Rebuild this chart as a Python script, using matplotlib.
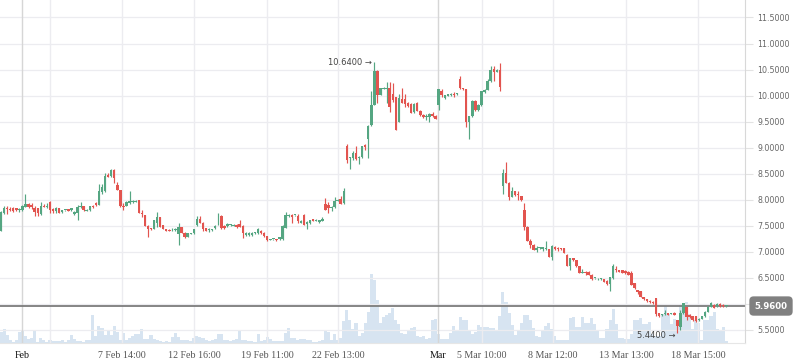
import matplotlib
matplotlib.use('Agg')
import matplotlib.pyplot as plt
import matplotlib.transforms as mtransforms

# ---------------- data ----------------
opens = [
7.41,7.74,7.85,7.83,7.85,7.84,7.81,7.80,7.87,7.92,
7.90,7.85,7.84,7.73,7.88,7.87,7.96,7.82,7.79,7.84,
7.77,7.80,7.82,7.80,7.72,7.75,7.87,7.88,7.79,7.80,
7.88,7.94,7.90,8.14,8.16,8.48,8.46,8.58,8.28,8.19,
7.88,7.89,7.94,7.96,7.96,8.00,7.75,7.71,7.50,7.45,
7.43,7.55,7.66,7.51,7.43,7.42,7.43,7.42,7.34,7.47,
7.37,7.29,7.35,7.36,7.52,7.64,7.56,7.45,7.42,7.42,
7.45,7.68,7.69,7.50,7.50,7.51,7.50,7.52,7.53,7.50,
7.32,7.32,7.32,7.37,7.36,7.41,7.37,7.30,7.23,7.24,
7.24,7.24,7.24,7.45,7.68,7.71,7.70,7.68,7.56,7.71,
7.54,7.55,7.63,7.60,7.57,7.60,7.92,7.90,7.84,7.86,
7.98,8.01,7.93,9.03,8.80,8.80,8.89,8.81,8.83,9.05,
9.16,9.44,9.82,10.48,10.01,10.13,10.13,10.14,10.04,9.97,
9.50,9.93,9.93,9.86,9.84,9.69,9.86,9.71,9.63,9.59,
9.58,9.65,9.61,9.82,10.08,9.95,10.00,10.01,10.04,10.03,
10.31,10.14,10.12,9.50,9.60,9.90,9.72,9.82,10.06,10.11,
10.29,10.52,10.46,10.50,8.27,8.52,8.33,8.06,8.16,8.11,
8.07,7.80,7.48,7.21,7.13,7.04,7.07,7.06,7.05,7.05,
6.91,7.10,7.06,7.07,7.07,6.94,6.73,6.88,6.84,6.72,
6.60,6.62,6.62,6.56,6.49,6.47,6.47,6.47,6.45,6.38,
6.49,6.68,6.65,6.65,6.64,6.62,6.59,6.40,6.26,6.24,
6.13,6.09,6.06,6.04,6.11,5.82,5.79,5.81,5.82,5.81,
5.83,5.69,5.56,5.82,5.94,5.79,5.76,5.76,5.69,5.72,
5.76,5.85,5.95,5.98,5.96,6.00,5.98,5.96]

highs = [
7.78,7.88,7.88,7.86,7.87,7.85,7.85,7.90,8.11,7.93,
7.93,7.88,7.85,7.96,7.92,7.94,7.97,7.84,7.87,7.85,
7.81,7.81,7.83,7.85,7.78,7.90,7.96,7.89,7.82,7.89,
7.90,7.95,8.30,8.30,8.51,8.51,8.59,8.59,8.35,8.19,
7.94,7.98,8.16,8.00,7.99,8.00,7.81,7.71,7.51,7.46,
7.62,7.76,7.67,7.52,7.44,7.43,7.45,7.46,7.55,7.48,
7.38,7.37,7.37,7.44,7.68,7.68,7.57,7.46,7.45,7.44,
7.51,7.75,7.70,7.51,7.56,7.54,7.53,7.53,7.62,7.51,
7.38,7.38,7.38,7.39,7.45,7.42,7.38,7.31,7.25,7.25,
7.25,7.29,7.52,7.77,7.72,7.72,7.71,7.73,7.61,7.73,
7.59,7.62,7.64,7.63,7.62,7.66,8.03,7.96,7.88,8.06,
8.01,8.07,8.22,9.08,8.82,8.94,9.03,8.85,9.04,9.07,
9.43,10.08,10.64,10.50,10.15,10.16,10.27,10.27,10.24,9.98,
10.04,10.14,10.04,9.88,9.86,9.86,9.87,9.72,9.64,9.65,
9.66,9.69,9.62,10.13,10.12,10.02,10.04,10.05,10.06,10.05,
10.38,10.15,10.13,9.61,9.91,9.91,9.83,10.09,10.12,10.31,
10.57,10.57,10.51,10.62,8.60,8.73,8.34,8.24,8.17,8.17,
8.08,7.94,7.50,7.24,7.15,7.11,7.10,7.10,7.20,7.06,
7.13,7.11,7.10,7.08,7.08,6.96,6.89,6.89,6.85,6.73,
6.68,6.64,6.63,6.57,6.50,6.49,6.50,6.48,6.46,6.52,
6.77,6.72,6.66,6.66,6.65,6.63,6.64,6.41,6.27,6.25,
6.14,6.10,6.07,6.05,6.12,5.83,5.80,5.88,5.83,5.83,
5.84,5.70,5.88,6.02,5.95,5.80,5.77,5.77,5.73,5.77,
5.86,5.96,6.03,5.99,6.01,6.01,5.99,5.96]

lows = [
7.40,7.73,7.73,7.79,7.77,7.79,7.77,7.79,7.86,7.85,
7.82,7.69,7.69,7.71,7.86,7.84,7.75,7.75,7.75,7.74,
7.74,7.79,7.78,7.79,7.71,7.61,7.85,7.79,7.78,7.79,
7.85,7.89,7.90,8.12,8.14,8.43,8.44,8.32,8.19,7.87,
7.80,7.89,7.92,7.93,7.95,7.74,7.67,7.50,7.28,7.42,
7.43,7.48,7.48,7.43,7.40,7.40,7.41,7.41,7.13,7.36,
7.27,7.28,7.34,7.35,7.50,7.55,7.41,7.40,7.39,7.41,
7.44,7.52,7.43,7.44,7.48,7.50,7.49,7.46,7.47,7.26,
7.31,7.31,7.31,7.34,7.34,7.35,7.29,7.21,7.22,7.23,
7.21,7.23,7.23,7.45,7.67,7.56,7.69,7.56,7.55,7.52,
7.43,7.54,7.59,7.59,7.56,7.60,7.80,7.75,7.79,7.84,
7.97,7.92,7.92,8.71,8.60,8.76,8.76,8.69,8.80,8.96,
8.81,9.42,9.82,9.85,10.01,10.12,9.85,9.69,9.88,9.34,
9.50,9.85,9.79,9.78,9.66,9.67,9.70,9.60,9.57,9.53,
9.50,9.59,9.55,9.72,9.98,9.94,9.99,10.00,9.97,10.02,
10.12,10.11,9.39,9.16,9.59,9.71,9.71,9.81,10.05,10.10,
10.27,10.29,10.45,10.08,8.12,8.32,7.99,8.05,8.08,7.99,
7.98,7.42,7.21,7.07,7.03,7.00,7.06,7.02,7.04,6.90,
6.84,7.04,7.02,7.04,6.98,6.72,6.66,6.83,6.71,6.59,
6.59,6.56,6.55,6.46,6.48,6.46,6.46,6.42,6.37,6.24,
6.47,6.62,6.61,6.59,6.58,6.55,6.36,6.29,6.20,6.13,
6.08,6.04,6.02,6.00,5.76,5.75,5.76,5.79,5.78,5.80,
5.78,5.44,5.50,5.81,5.70,5.73,5.68,5.66,5.68,5.71,
5.75,5.84,5.94,5.92,5.95,5.95,5.95,5.95]

closes = [
7.77,7.85,7.82,7.80,7.79,7.80,7.82,7.88,7.92,7.86,
7.87,7.77,7.75,7.88,7.87,7.89,7.80,7.79,7.85,7.75,
7.80,7.80,7.79,7.84,7.77,7.87,7.88,7.80,7.81,7.88,
7.87,7.90,8.16,8.25,8.46,8.44,8.58,8.41,8.19,7.89,
7.87,7.96,7.98,7.97,7.98,7.75,7.73,7.50,7.43,7.43,
7.61,7.66,7.48,7.43,7.41,7.41,7.44,7.44,7.48,7.37,
7.28,7.36,7.36,7.43,7.63,7.56,7.43,7.41,7.42,7.43,
7.50,7.69,7.45,7.45,7.53,7.53,7.52,7.47,7.48,7.37,
7.37,7.37,7.37,7.38,7.43,7.36,7.30,7.22,7.24,7.24,
7.22,7.28,7.50,7.71,7.71,7.66,7.70,7.60,7.60,7.52,
7.58,7.61,7.60,7.62,7.61,7.64,7.80,7.84,7.87,7.98,
8.00,7.92,8.16,8.76,8.81,8.89,8.78,8.83,9.03,9.01,
9.42,9.82,10.48,10.01,10.14,10.14,10.14,9.78,9.92,9.34,
9.95,9.86,9.84,9.80,9.67,9.84,9.71,9.63,9.58,9.60,
9.65,9.60,9.56,10.12,10.01,10.01,10.03,10.04,10.02,10.04,
10.14,10.12,9.50,9.60,9.90,9.72,9.82,10.08,10.11,10.29,
10.50,10.46,10.50,10.17,8.52,8.33,8.06,8.16,8.09,8.09,
7.99,7.47,7.21,7.13,7.04,7.07,7.09,7.09,7.06,6.91,
7.11,7.05,7.05,7.05,6.98,6.73,6.88,6.84,6.72,6.60,
6.62,6.59,6.56,6.47,6.49,6.48,6.49,6.43,6.38,6.51,
6.73,6.65,6.62,6.60,6.59,6.56,6.36,6.30,6.22,6.14,
6.09,6.06,6.03,6.01,5.81,5.76,5.79,5.82,5.79,5.82,
5.79,5.58,5.82,6.01,5.74,5.74,5.69,5.68,5.72,5.76,
5.85,5.95,6.01,5.93,6.00,5.96,5.96,5.96]

volume = [
11,14,8,3,1,3,11,13,7,4,
5,13,1,5,3,1,3,2,2,2,3,
1,3,8,4,2,2,1,3,3,28,7,17,
15,8,12,8,17,11,3,10,3,5,
7,9,9,14,4,4,8,4,3,2,1,2,
1,6,10,6,3,3,3,2,5,7,6,
5,3,2,3,4,9,9,3,3,2,3,
4,12,3,3,2,2,1,9,2,3,6,
4,2,2,2,2,10,15,5,5,3,4,4,3,
3,1,1,2,3,13,
11,3,9,3,5,22,33,23,14,20,
7,10,20,31,69,63,43,20,26,28,
30,35,23,19,10,9,12,15,16,7,
6,7,4,5,23,24,9,4,4,4,10,
17,13,26,23,23,12,9,11,18,16,16,16,
15,15,12,27,51,41,30,18,8,13,20,28,28,
23,15,7,6,13,17,20,14,7,3,3,3,3,
25,26,16,16,26,20,20,25,19,13,
5,5,14,23,34,19,5,5,4,4,9,
23,23,25,19,19,21,9,7,7,
29,37,29,19,24,22,39,35,41,29,
14,23,20,3,23,23,27,31,14,12,16,2]

tick_pos = [6.86, 16.0, 39.5, 63.1, 86.9, 110.1, 142.8, 157.2, 180.4, 204.2, 227.8]
tick_labels = ['Feb', '', '7 Feb 14:00', '12 Feb 16:00', '19 Feb 11:00', '22 Feb 13:00',
               'Mar', '5 Mar 10:00', '8 Mar 12:00', '13 Mar 13:00', '18 Mar 15:00']
month_labels = ['Feb', 'Mar']
price_ticks = [5.5, 6.0, 6.5, 7.0, 7.5, 8.0, 8.5, 9.0, 9.5, 10.0, 10.5, 11.0, 11.5]

n = len(closes)
for name, arr in [('opens', opens), ('highs', highs), ('lows', lows), ('volume', volume)]:
    if len(arr) != n:
        raise SystemExit(f'length mismatch {name}: {len(arr)} vs {n}')

# ---------------- style ----------------
UP = '#55a682'
DOWN = '#e2544f'
VOL = '#d7e4f1'
GRID = '#ececf0'
MONTH = '#d6d6d6'

W, H = 798, 363
fig = plt.figure(figsize=(W / 100, H / 100), dpi=100)
fig.patch.set_facecolor('white')
pos = [0, 20 / H, 745 / W, 343 / H]

xlim = (-0.33, 243.1)
last = closes[-1]

# volume axes (behind)
axv = fig.add_axes(pos, zorder=0)
axv.set_xlim(*xlim)
axv.set_ylim(0, 343)
axv.bar(range(n), volume, width=1.0, color=VOL, linewidth=0)
axv.axis('off')

# price axes (front)
ax = fig.add_axes(pos, zorder=1)
ax.patch.set_alpha(0)
ax.set_xlim(*xlim)
ax.set_ylim(5.25, 11.836)

for p in price_ticks:
    ax.axhline(p, color=GRID, lw=0.9, zorder=1)
for tp, tl in zip(tick_pos, tick_labels):
    ax.axvline(tp, color=MONTH if tl in month_labels else GRID, lw=1.0, zorder=1)

ax.axhline(last, color='#7c7c7c', lw=1.3, zorder=2)

xs = list(range(n))
cols = [UP if c >= o else DOWN for o, c in zip(opens, closes)]
ax.vlines(xs, lows, highs, colors=cols, lw=0.85, zorder=3)
bottoms = [min(o, c) for o, c in zip(opens, closes)]
heights = [max(abs(c - o), 0.018) for o, c in zip(opens, closes)]
ax.bar(xs, heights, bottom=bottoms, width=0.8, color=cols, linewidth=0, zorder=4)

# axes styling
for s in ['left', 'top']:
    ax.spines[s].set_visible(False)
ax.spines['right'].set_color('#d8d8d8')
ax.spines['bottom'].set_color('#e6e6e6')
ax.yaxis.tick_right()
ax.set_yticks(price_ticks)
# the label nearest the last-price badge is hidden by the badge in the reference
ylabels = ['' if abs(p - last) < 0.25 else f'{p:.4f}' for p in price_ticks]
ax.set_yticklabels(ylabels, fontsize=5.7, family='DejaVu Sans', color='#666666')
ax.tick_params(axis='y', length=6, color='#e3e3e3', pad=3)

ax.set_xticks(tick_pos)
ax.set_xticklabels(tick_labels, fontsize=7.2, family='Liberation Serif')
for lab in ax.get_xticklabels():
    lab.set_color('#111111' if lab.get_text() in month_labels else '#555555')
ax.tick_params(axis='x', length=0, pad=6)

# high / low annotations
i_hi = highs.index(max(highs))
i_lo = lows.index(min(lows))
ax.text(i_hi - 0.7, highs[i_hi], f'{highs[i_hi]:.4f} \u2192', ha='right', va='center',
        fontsize=6.0, family='DejaVu Sans', color='#444444', zorder=6)
ax.text(i_lo - 0.7, lows[i_lo] - 0.04, f'{lows[i_lo]:.4f} \u2192', ha='right', va='center',
        fontsize=6.0, family='DejaVu Sans', color='#444444', zorder=6)

# last price badge
trans = mtransforms.blended_transform_factory(fig.transFigure, ax.transData)
fig.text(771 / W, last, f'{last:.4f}', transform=trans, ha='center', va='center',
         fontsize=6.2, family='DejaVu Sans', color='white', fontweight='bold', zorder=10,
         bbox=dict(boxstyle='round,pad=0.6,rounding_size=0.5', facecolor='#808080',
                   edgecolor='none'))

fig.savefig('out.png', dpi=100)
